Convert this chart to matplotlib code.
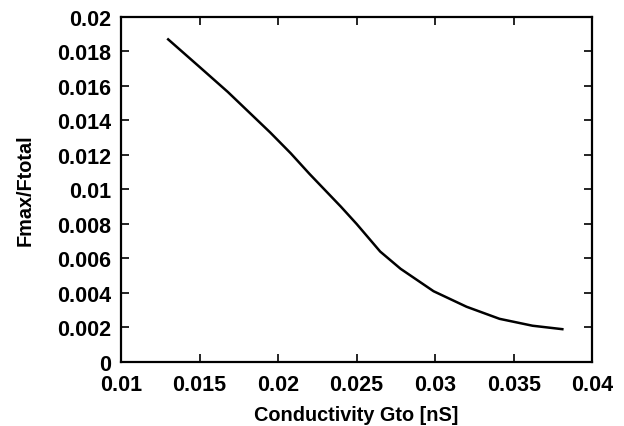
import numpy as np
import matplotlib.pyplot as plt

# valores
gto = [0.0130, 0.0150, 0.0168, 0.0195, 0.0208, 0.0220, 0.0240, 0.0250, 0.0265,
       0.0278, 0.0299, 0.0320, 0.0341, 0.0362, 0.0381]
ratio = [0.0187, 0.0171, 0.01565, 0.0133, 0.0121, 0.0109, 0.0090, 0.0080, 0.0064,
         0.0054, 0.0041, 0.0032, 0.0025, 0.0021, 0.0019]

xticks = [0.01, 0.015, 0.02, 0.025, 0.03, 0.035, 0.04]
xtick_labels = ['0.01', '0.015', '0.02', '0.025', '0.03', '0.035', '0.04']
yticks = [0, 0.002, 0.004, 0.006, 0.008, 0.01, 0.012, 0.014, 0.016, 0.018, 0.02]
ytick_labels = ['0', '0.002', '0.004', '0.006', '0.008', '0.01', '0.012', '0.014',
                '0.016', '0.018', '0.02']

plt.rcParams['font.family'] = ['Liberation Sans', 'DejaVu Sans']
plt.rcParams['font.weight'] = 'bold'

fig = plt.figure(figsize=(6.24, 4.27), dpi=100)
ax = fig.add_axes([0.194, 0.150, 0.755, 0.808])

ax.plot(gto, ratio, color='black', linewidth=1.8, solid_joinstyle='round')

ax.set_xlim(0.01, 0.04)
ax.set_ylim(0, 0.02)
ax.set_xticks(xticks)
ax.set_xticklabels(xtick_labels)
ax.set_yticks(yticks)
ax.set_yticklabels(ytick_labels)
ax.tick_params(direction='in', length=6, width=1.2, top=True, right=True,
               labelsize=15.5)
ax.tick_params(axis='x', pad=9)
ax.tick_params(axis='y', pad=7)
for s in ax.spines.values():
    s.set_linewidth(1.6)

ax.set_xlabel('Conductivity Gto [nS]', fontsize=14.3, fontweight='bold', labelpad=7)
ax.set_ylabel('Fmax/Ftotal', fontsize=14.3, fontweight='bold', labelpad=16)

plt.savefig('out.png', dpi=100)
